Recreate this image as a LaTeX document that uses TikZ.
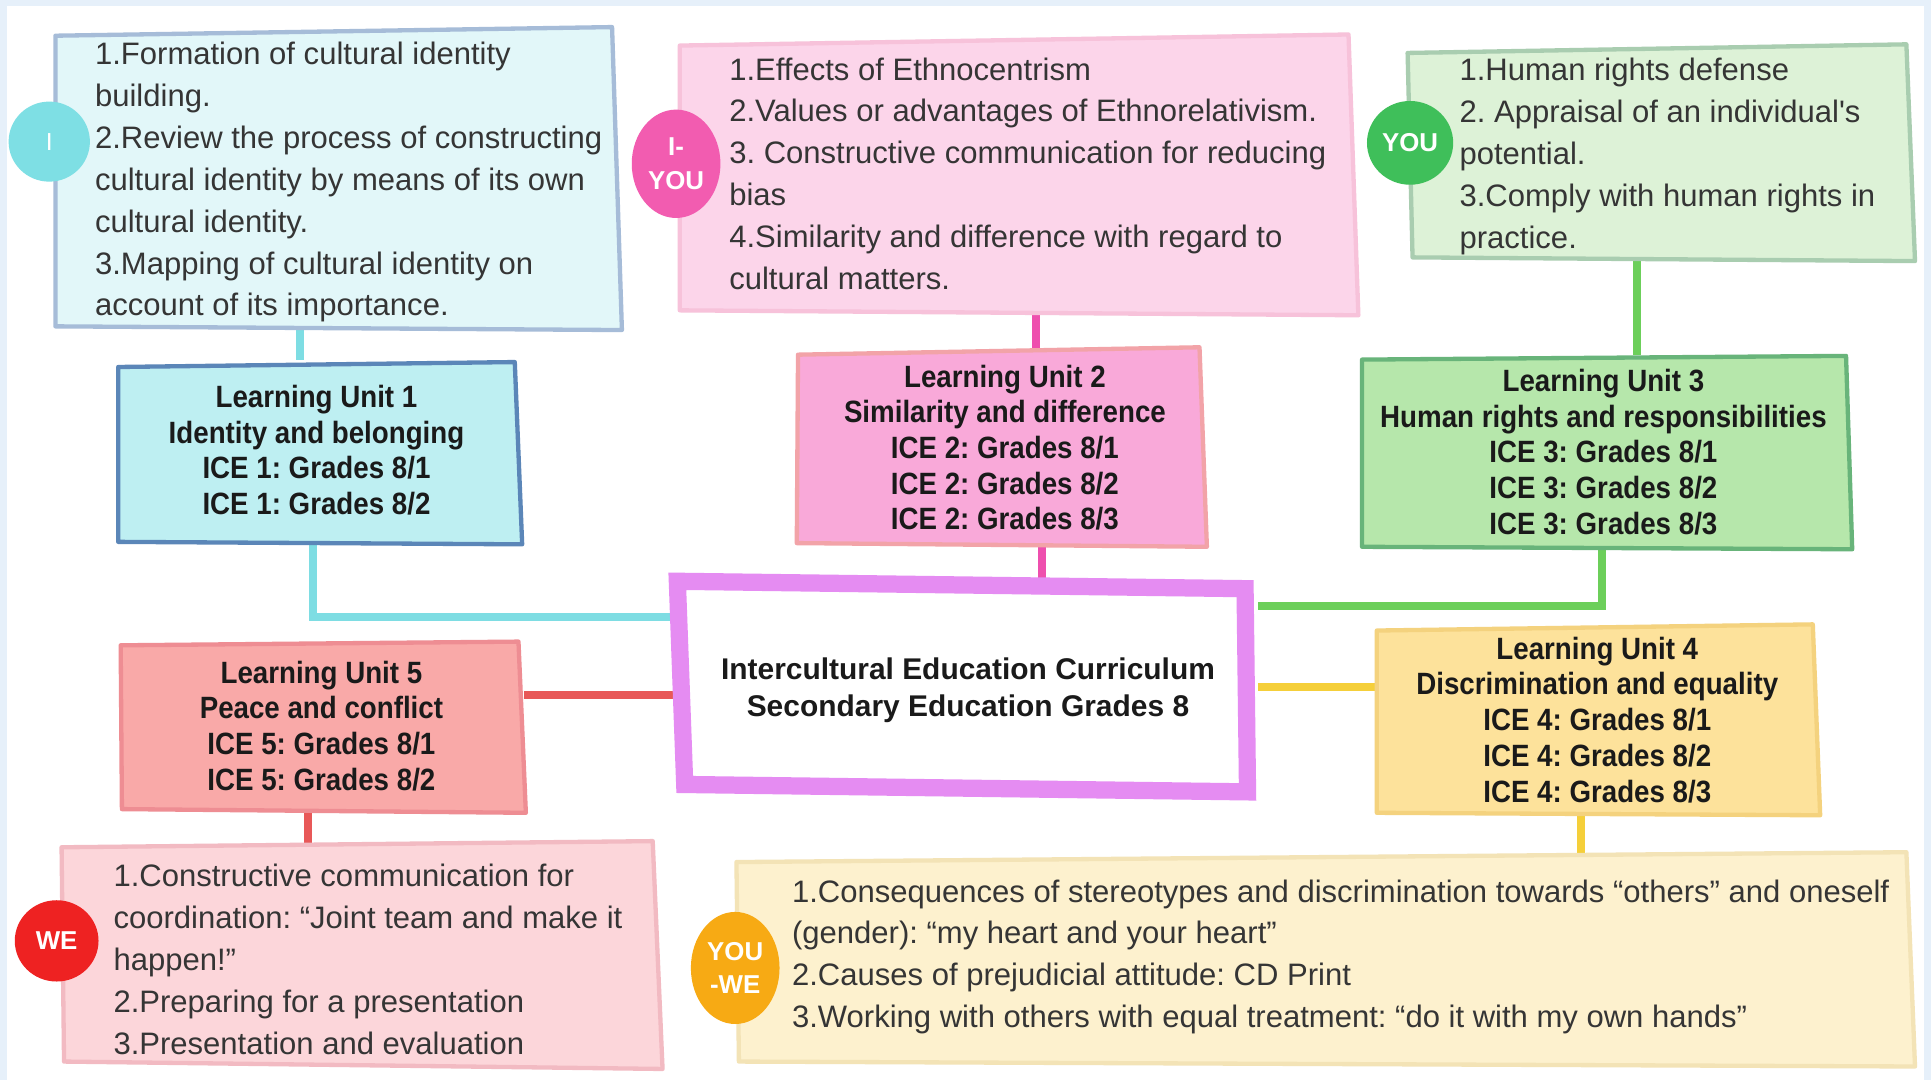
\documentclass[tikz,border=0pt]{standalone}
\usepackage{fontspec}
\setmainfont{Liberation Sans}
\newfontfamily\unitfont[FakeStretch=0.9]{Liberation Sans}
\usetikzlibrary{shapes.geometric,calc}
\frenchspacing
\pgfdeclarelayer{paper}
\pgfdeclarelayer{links}
\pgfsetlayers{paper,links,main}

\definecolor{pagebg}{HTML}{E6F0FA}
\definecolor{topictext}{HTML}{353535}
\definecolor{unittext}{HTML}{1A1A1A}
% topic boxes
\definecolor{iFill}{HTML}{E2F7F9}\definecolor{iEdge}{HTML}{A6BCD8}
\definecolor{iyFill}{HTML}{FCD5EA}\definecolor{iyEdge}{HTML}{F7C2DA}
\definecolor{yFill}{HTML}{DDF2D7}\definecolor{yEdge}{HTML}{A9CDB0}
\definecolor{weFill}{HTML}{FCD6DA}\definecolor{weEdge}{HTML}{F2BAC2}
\definecolor{ywFill}{HTML}{FDF1CE}\definecolor{ywEdge}{HTML}{F3E3B6}
% unit boxes
\definecolor{uaFill}{HTML}{BEEFF2}\definecolor{uaEdge}{HTML}{5B86B8}
\definecolor{ubFill}{HTML}{F9A9D9}\definecolor{ubEdge}{HTML}{F2A3A8}
\definecolor{ucFill}{HTML}{B6E7AB}\definecolor{ucEdge}{HTML}{68B47A}
\definecolor{udFill}{HTML}{FDE29B}\definecolor{udEdge}{HTML}{F4D27E}
\definecolor{ueFill}{HTML}{F9A9A8}\definecolor{ueEdge}{HTML}{EE8D93}
% connectors and badges
\definecolor{cyanLine}{HTML}{7EDDE3}
\definecolor{magLine}{HTML}{EE4FAE}
\definecolor{greenLine}{HTML}{6CCF5A}
\definecolor{yellowLine}{HTML}{F5CF3A}
\definecolor{redLine}{HTML}{E85858}
\definecolor{centerEdge}{HTML}{E58CF2}
\definecolor{badgeI}{HTML}{7EDFE4}
\definecolor{badgeIY}{HTML}{F25CB0}
\definecolor{badgeY}{HTML}{3FBF5A}
\definecolor{badgeWE}{HTML}{EE2222}
\definecolor{badgeYW}{HTML}{F7AA14}

\tikzset{
  area/.style={inner sep=0pt},
  topic/.style={inner sep=0pt, anchor=west, align=left, text=topictext,
    font=\fontsize{25.2}{34}\selectfont},
  unitbox/.style={inner sep=0pt, align=center, text=unittext,
    font=\unitfont\bfseries\fontsize{25}{29}\selectfont},
  skbox/.style={line width=3.5pt, line join=round},
  link/.style={line width=6.5pt},
  badge/.style={ellipse, inner sep=0pt, text=white, align=center,
    font=\bfseries\fontsize{21}{27}\selectfont},
}

\begin{document}
\begin{tikzpicture}[x=1pt,y=-1pt]
\useasboundingbox (0,0) rectangle (1568,877);
\begin{pgfonlayer}{paper}
\fill[pagebg] (0,0) rectangle (1568,877);
\fill[white] (6,5) rectangle (1562,877);
\end{pgfonlayer}

% hand-drawn box outlines
\filldraw[skbox, fill=iFill, draw=iEdge] (45,29) -- (497,22) -- (505,268) -- (45,265) -- cycle;
\filldraw[skbox, fill=iyFill, draw=iyEdge] (552,37) -- (1095,28) -- (1103,256) -- (552,252) -- cycle;
\filldraw[skbox, fill=yFill, draw=yEdge] (1143,43) -- (1548,36) -- (1555,212) -- (1147,209) -- cycle;
\filldraw[skbox, fill=uaFill, draw=uaEdge] (96,298) -- (418,294) -- (424,442) -- (96,440) -- cycle;
\filldraw[skbox, fill=ubFill, draw=ubEdge] (648,288) -- (974,282) -- (980,444) -- (647,441) -- cycle;
\filldraw[skbox, fill=ucFill, draw=ucEdge] (1106,292) -- (1499,289) -- (1504,446) -- (1106,444) -- cycle;
\filldraw[skbox, fill=udFill, draw=udEdge] (1118,512) -- (1472,507) -- (1478,662) -- (1118,660) -- cycle;
\filldraw[skbox, fill=ueFill, draw=ueEdge] (98,524) -- (421,521) -- (427,660) -- (99,657) -- cycle;
\filldraw[skbox, fill=weFill, draw=weEdge] (50,688) -- (530,683) -- (538,868) -- (52,862) -- cycle;
\filldraw[skbox, fill=ywFill, draw=ywEdge] (598,700) -- (1548,692) -- (1555,866) -- (600,862) -- cycle;
\filldraw[line width=14pt, line join=miter, fill=white, draw=centerEdge]
  (550,472) -- (1011,478) -- (1013,643) -- (556,637) -- cycle;

% topic areas (for attaching connectors)
\node[area, minimum width=460pt, minimum height=243pt] (topI) at (275,146.5) {};
\node[area, minimum width=551pt, minimum height=225pt] (topIY) at (827.5,142.5) {};
\node[area, minimum width=412pt, minimum height=174pt] (topY) at (1349,125) {};
\node[area, minimum width=488pt, minimum height=183pt] (topWE) at (294,776.5) {};
\node[area, minimum width=957pt, minimum height=172pt] (topYW) at (1076.5,780) {};

% topic texts
\node[topic] (txtI) at (77,148)
  {1.Formation of cultural identity\\building.\\2.Review the process of constructing\\cultural identity by means of its own\\cultural identity.\\3.Mapping of cultural identity on\\account of its importance.};
\node[topic] (txtIY) at (592,141)
  {1.Effects of Ethnocentrism\\2.Values or advantages of Ethnorelativism.\\3. Constructive communication for reducing\\bias\\4.Similarity and difference with regard to\\cultural matters.};
\node[topic] (txtY) at (1185,127)
  {1.Human rights defense\\2. Appraisal of an individual\textquotesingle s\\potential.\\3.Comply with human rights in\\practice.};
\node[topic] (txtWE) at (92,779)
  {1.Constructive communication for\\coordination: “Joint team and make it\\happen!”\\2.Preparing for a presentation\\3.Presentation and evaluation};
\node[topic] (txtYW) at (643,777)
  {1.Consequences of stereotypes and discrimination towards “others” and oneself\\(gender): “my heart and your heart”\\2.Causes of prejudicial attitude: CD Print\\3.Working with others with equal treatment: “do it with my own hands”};

% learning units
\node[unitbox, minimum width=328pt, minimum height=146pt] (u1) at (257,365.5)
  {Learning Unit 1\\Identity and belonging\\ICE 1: Grades 8/1\\ICE 1: Grades 8/2};
\node[unitbox, minimum width=333pt, minimum height=161pt] (u2) at (816,363.5)
  {Learning Unit 2\\Similarity and difference\\ICE 2: Grades 8/1\\ICE 2: Grades 8/2\\ICE 2: Grades 8/3};
\node[unitbox, minimum width=398pt, minimum height=157pt] (u3) at (1302,367)
  {Learning Unit 3\\Human rights and responsibilities\\ICE 3: Grades 8/1\\ICE 3: Grades 8/2\\ICE 3: Grades 8/3};
\node[unitbox, minimum width=360pt, minimum height=154pt] (u4) at (1297,584.5)
  {Learning Unit 4\\Discrimination and equality\\ICE 4: Grades 8/1\\ICE 4: Grades 8/2\\ICE 4: Grades 8/3};
\node[unitbox, minimum width=329pt, minimum height=139pt] (u5) at (261,589.5)
  {Learning Unit 5\\Peace and conflict\\ICE 5: Grades 8/1\\ICE 5: Grades 8/2};

% central node
\node[inner sep=0pt, minimum width=471pt, minimum height=185pt, align=center, text=unittext,
  font=\bfseries\fontsize{24.3}{30}\selectfont] (core) at (786,560.5)
  {Intercultural Education Curriculum\\Secondary Education Grades 8};

% connectors, kept beneath the boxes so that they stop at the outlines
\begin{pgfonlayer}{links}
\draw[link, cyanLine] ([xshift=-31pt]topI.south) -- ([xshift=-31pt]topI.south |- u1.north);
\draw[link, magLine] ([xshift=14pt]topIY.south) -- ([xshift=14pt]topIY.south |- u2.north);
\draw[link, greenLine] ([xshift=-20pt]topY.south) -- ([xshift=-20pt]topY.south |- u3.north);
\draw[link, cyanLine] ([xshift=-3pt]u1.south) |- ($(core.north west)!0.18!(core.south west)$);
\draw[link, magLine] ([xshift=30pt]u2.south) -- ([xshift=30pt]u2.south |- core.north) -- ++(0,14);
\draw[link, greenLine] ([xshift=-1pt]u3.south) |- ($(core.north east)!0.13!(core.south east)$);
\draw[link, yellowLine] ([yshift=3pt]core.east) -- ([yshift=3pt]core.east -| u4.west);
\draw[link, redLine] ([yshift=-4pt]core.west) -- ([yshift=-4pt]core.west -| u5.east);
\draw[link, redLine] ([xshift=-11pt]u5.south) -- ([xshift=-11pt]u5.south |- topWE.north);
\draw[link, yellowLine] ([xshift=-13pt]u4.south) -- ([xshift=-13pt]u4.south |- topYW.north);
\end{pgfonlayer}

% badges
\node[badge, fill=badgeI, minimum width=66pt, minimum height=65pt,
  font=\fontsize{20}{24}\selectfont] (bI) at (40,115) {I};
\node[badge, fill=badgeIY, minimum width=72pt, minimum height=88pt] (bIY) at (549,133) {I-\\YOU};
\node[badge, fill=badgeY, minimum width=70pt, minimum height=68pt] (bY) at (1145,116) {YOU};
\node[badge, fill=badgeWE, minimum width=68pt, minimum height=66pt] (bWE) at (46,764) {WE};
\node[badge, fill=badgeYW, minimum width=72pt, minimum height=91pt] (bYW) at (597,786) {YOU\\-WE};
\end{tikzpicture}
\end{document}
